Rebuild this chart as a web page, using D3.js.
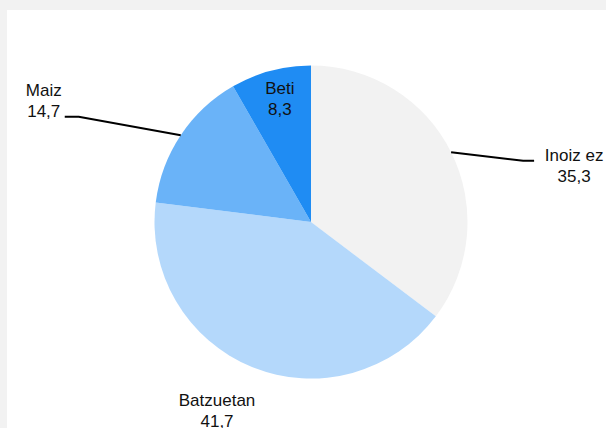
<!DOCTYPE html>
<html><head><meta charset="utf-8">
<script src="https://cdn.jsdelivr.net/npm/d3@7"></script>
<style>
html,body{margin:0;padding:0;background:#f2f2f2;}
svg{display:block;font-family:"Liberation Sans",Arial,sans-serif;}
</style></head>
<body>
<svg id="chart" width="606" height="428"></svg>
<script>
const categories = ["Inoiz ez", "Batzuetan", "Maiz", "Beti"];
const values = [35.3, 41.7, 14.7, 8.3];
const valueLabels = ["35,3", "41,7", "14,7", "8,3"];
const colors = ["#f2f2f2", "#b4d8fb", "#6ab3f8", "#1f8cf3"];

const svg = d3.select("#chart");
svg.append("rect").attr("x",7).attr("y",10).attr("width",606).attr("height",428).attr("fill","#ffffff");

const cx = 311, cy = 222, r = 156.5;
const g = svg.append("g").attr("transform",`translate(${cx},${cy})`);
const data = categories.map((c,i)=>({cat:c, value:values[i], label:valueLabels[i], color:colors[i]}));
const pie = d3.pie().value(d=>d.value).sort(null);
const arcs = pie(data);
const arc = d3.arc().innerRadius(0).outerRadius(r);

g.selectAll("path.slice").data(arcs).join("path")
  .attr("class","slice").attr("d",arc).attr("fill",d=>d.data.color);

const fs = 17, lh = 21;
function label(x, y, lines, anchor){
  const t = svg.append("text").attr("x",x).attr("y",y).attr("text-anchor",anchor||"middle")
    .attr("font-size",fs).attr("fill","#111");
  lines.forEach((l,i)=>t.append("tspan").attr("x",x).attr("dy", i===0?0:lh).text(l));
}
function edge(a, rr){ const m=(a.startAngle+a.endAngle)/2; return [cx+Math.sin(m)*rr, cy-Math.cos(m)*rr]; }

// Inoiz ez: connector to right
{
  const a = arcs[0]; const p = edge(a, r);
  svg.append("path").attr("d",`M${p[0]},${p[1]}L${p[0]+72},${p[1]+8.5}L${p[0]+83},${p[1]+8.5}`)
    .attr("fill","none").attr("stroke","#000").attr("stroke-width",2);
  label(p[0]+123, p[1]+9, [a.data.cat, a.data.label]);
}
// Batzuetan: below
{
  const a = arcs[1]; const p = edge(a, r);
  label(p[0]-35, p[1]+39, [a.data.cat, a.data.label]);
}
// Maiz: connector to left
{
  const a = arcs[2]; const p = edge(a, r);
  svg.append("path").attr("d",`M${p[0]},${p[1]}L${p[0]-102},${p[1]-18.5}L${p[0]-116},${p[1]-18.5}`)
    .attr("fill","none").attr("stroke","#000").attr("stroke-width",2);
  label(p[0]-137, p[1]-39, [a.data.cat, a.data.label]);
}
// Beti: inside
{
  const a = arcs[3]; const p = edge(a, r*0.77);
  label(p[0], p[1]-12, [a.data.cat, a.data.label]);
}
</script>
</body></html>
